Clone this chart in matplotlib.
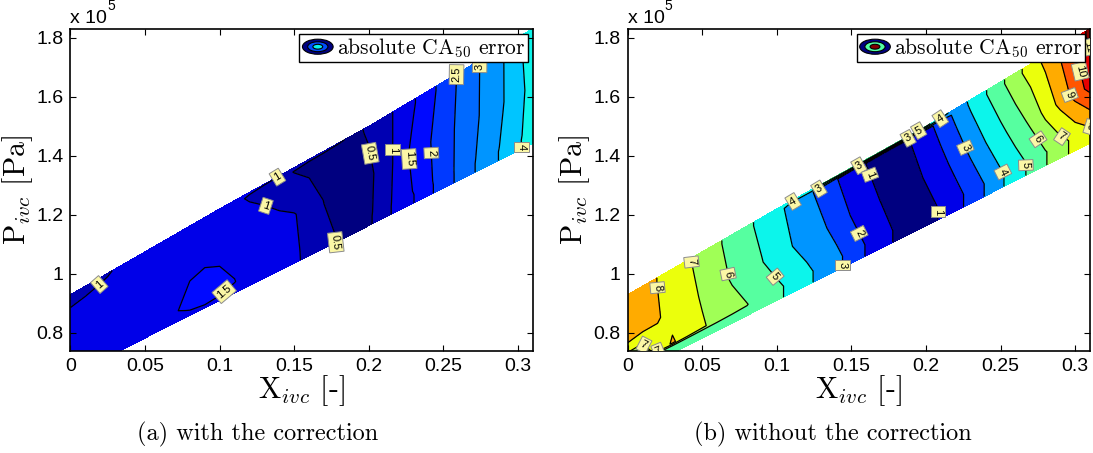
import numpy as np
import matplotlib
matplotlib.use('Agg')
import matplotlib.pyplot as plt
from matplotlib.patches import Ellipse, Patch
from matplotlib.legend_handler import HandlerBase
from matplotlib.ticker import FormatStrFormatter

plt.rcParams['font.family'] = 'Liberation Sans'
plt.rcParams['mathtext.fontset'] = 'cm'
plt.rcParams['axes.unicode_minus'] = False
SERIF = 'cmr10'

# grid: X_ivc nodes along the band, and relative position across the band
x_nodes = [0.00, 0.01, 0.02, 0.03, 0.04, 0.05, 0.06, 0.07, 0.08, 0.09, 0.10,
           0.11, 0.12, 0.13, 0.14, 0.15, 0.16, 0.17, 0.18, 0.19, 0.20, 0.21,
           0.22, 0.23, 0.24, 0.25, 0.26, 0.27, 0.28, 0.29, 0.30, 0.31]
t_rows = [0.0, 0.08, 0.12, 0.5, 0.96, 1.0]

# limits of the operating range (P_ivc in 1e5 Pa)
edge_x = [0.0, 0.1, 0.2, 0.31]
edge_low = [0.655, 0.909, 1.163, 1.442]
edge_up = [0.929, 1.220, 1.500, 1.831]

# absolute CA50 error, with the correction
err_a_t000 = [1.20, 1.22, 1.25, 1.28, 1.32, 1.35, 1.38, 1.41, 1.44, 1.45, 1.44, 1.40, 1.33, 1.25, 1.16, 1.07,
              0.90, 0.68, 0.45, 0.35, 0.43, 0.75, 1.25, 1.49, 1.88, 2.25, 2.60, 2.96, 3.28, 3.60, 3.93, 4.25]
err_a_t008 = [1.20, 1.22, 1.25, 1.28, 1.32, 1.35, 1.39, 1.45, 1.52, 1.56, 1.53, 1.46, 1.34, 1.25, 1.16, 1.07,
              0.89, 0.66, 0.44, 0.35, 0.43, 0.75, 1.25, 1.49, 1.88, 2.25, 2.60, 2.96, 3.28, 3.60, 3.93, 4.25]
err_a_t012 = [1.20, 1.22, 1.25, 1.28, 1.32, 1.35, 1.40, 1.48, 1.57, 1.62, 1.58, 1.51, 1.37, 1.26, 1.16, 1.07,
              0.88, 0.64, 0.43, 0.34, 0.42, 0.74, 1.24, 1.52, 1.90, 2.26, 2.60, 2.95, 3.26, 3.58, 3.91, 4.24]
err_a_t050 = [1.20, 1.22, 1.25, 1.28, 1.32, 1.36, 1.40, 1.44, 1.47, 1.48, 1.46, 1.40, 1.32, 1.22, 1.12, 1.03,
              0.80, 0.48, 0.35, 0.30, 0.40, 0.70, 1.20, 1.65, 1.95, 2.28, 2.58, 2.88, 3.18, 3.48, 3.83, 4.20]
err_a_t096 = [0.93, 0.95, 0.98, 1.02, 1.08, 1.14, 1.20, 1.25, 1.30, 1.32, 1.25, 1.10, 0.95, 0.85, 0.70, 0.48,
              0.35, 0.32, 0.33, 0.40, 0.55, 0.85, 1.10, 1.45, 1.85, 2.15, 2.55, 2.85, 3.20, 3.48, 3.90, 4.30]
err_a_t100 = [0.88, 0.92, 0.96, 1.01, 1.06, 1.12, 1.18, 1.22, 1.26, 1.27, 1.20, 1.10, 1.08, 1.05, 1.02, 0.85,
              0.70, 0.65, 0.55, 0.42, 0.55, 0.85, 1.10, 1.45, 1.85, 2.15, 2.55, 2.85, 3.20, 3.48, 3.90, 4.30]

# absolute CA50 error, without the correction
err_b_t000 = [5.50, 5.50, 5.50, 5.50, 5.50, 5.50, 5.52, 5.55, 5.80, 5.60, 5.21, 4.74, 4.21, 3.72, 3.24, 2.64,
              1.93, 1.40, 0.88, 0.45, 0.60, 1.11, 1.67, 2.31, 3.08, 3.85, 4.53, 5.21, 5.93, 6.64, 7.29, 7.85]
err_b_t008 = [5.50, 5.50, 5.52, 5.55, 5.55, 5.55, 5.58, 5.60, 5.90, 5.62, 5.21, 4.74, 4.21, 3.72, 3.24, 2.64,
              1.93, 1.40, 0.88, 0.45, 0.60, 1.11, 1.67, 2.31, 3.08, 3.85, 4.53, 5.21, 5.93, 6.64, 7.29, 7.85]
err_b_t012 = [5.60, 5.80, 7.50, 8.10, 7.60, 7.10, 6.72, 6.38, 6.03, 5.62, 5.21, 4.74, 4.21, 3.72, 3.24, 2.64,
              1.93, 1.40, 0.88, 0.45, 0.60, 1.11, 1.67, 2.31, 3.08, 3.85, 4.53, 5.21, 5.93, 6.64, 7.29, 7.85]
err_b_t050 = [8.80, 8.40, 8.08, 7.69, 7.31, 6.90, 6.40, 5.91, 5.48, 5.04, 4.53, 4.02, 3.60, 3.20, 2.64, 1.95,
              1.45, 0.95, 0.48, 0.60, 1.11, 1.67, 2.33, 3.17, 3.98, 4.71, 5.46, 6.23, 7.30, 8.30, 9.35, 10.40]
err_b_t096 = [8.80, 8.43, 7.98, 7.57, 7.13, 6.65, 6.15, 5.67, 5.21, 4.73, 4.24, 3.75, 3.25, 2.68, 2.04, 1.52,
              0.98, 0.60, 0.45, 1.06, 1.66, 2.38, 3.27, 4.16, 4.95, 5.77, 6.64, 7.45, 8.23, 9.13, 10.12, 11.35]
err_b_t100 = [8.80, 8.43, 7.98, 7.57, 7.13, 6.65, 6.15, 5.67, 5.21, 4.73, 4.30, 4.20, 4.80, 5.30, 5.60, 5.70,
              5.80, 5.80, 5.70, 5.50, 5.20, 4.50, 3.50, 4.16, 4.95, 5.77, 6.64, 7.45, 8.23, 9.13, 10.12, 11.35]

levels_a = [0, 0.5, 1, 1.5, 2, 2.5, 3, 3.5, 4, 4.5]
levels_b = [0, 1, 2, 3, 4, 5, 6, 7, 8, 9, 10, 11, 12]
CMAX = 11.0  # shared colour axis

# where the inline contour labels sit
labels_a = [(0.019, 0.965), (0.102, 0.945), (0.131, 1.23), (0.139, 1.325), (0.176, 1.105),
            (0.192, 1.40), (0.210, 1.42), (0.229, 1.39), (0.245, 1.41), (0.258, 1.675),
            (0.272, 1.70), (0.300, 1.43)]
labels_b = [(0.0207, 0.953), (0.043, 1.04), (0.0665, 0.998), (0.0948, 0.973), (0.1115, 1.239),
            (0.128, 1.289), (0.155, 1.366), (0.158, 1.327), (0.1518, 1.128), (0.146, 1.03),
            (0.188, 1.459), (0.1945, 1.49), (0.208, 1.538), (0.2203, 1.414), (0.208, 1.21),
            (0.2483, 1.335), (0.264, 1.368), (0.271, 1.442), (0.2877, 1.436), (0.2965, 1.606),
            (0.302, 1.685), (0.3066, 1.765), (0.308, 1.46), (0.0118, 0.764), (0.0184, 0.762)]

jet = plt.get_cmap('jet')

xx = np.array(x_nodes)
low = np.interp(xx, edge_x, edge_low)
up = np.interp(xx, edge_x, edge_up)
X = np.tile(xx, (len(t_rows), 1))
P = low[None, :] + np.array(t_rows)[:, None] * (up - low)[None, :]


class RingHandler(HandlerBase):
    # small nested-ellipse icon, like a filled contour
    def __init__(self, colors):
        super().__init__()
        self.colors = colors

    def create_artists(self, legend, orig_handle, xdescent, ydescent,
                       width, height, fontsize, trans):
        cx, cy = 0.5 * width - xdescent, 0.5 * height - ydescent
        arts = []
        for k, c in enumerate(self.colors):
            s = 1.0 - 0.34 * k
            arts.append(Ellipse((cx, cy), width * 0.95 * s, height * 1.0 * s,
                                facecolor=c, edgecolor='k', lw=0.8, transform=trans))
        return arts


def draw_panel(ax, Z, levels, label_pos, ring_colors):
    colors = [jet(lv / CMAX) for lv in levels[:-1]]
    ax.contourf(X, P, Z, levels=levels, colors=colors)
    cs = ax.contour(X, P, Z, levels=levels, colors='k', linewidths=0.9)
    ax.set_xlim(0, 0.31)
    ax.set_ylim(0.739, 1.8305)
    txts = ax.clabel(cs, manual=label_pos, fmt='%g', fontsize=8, inline=False)
    for t in txts:
        t.set_bbox(dict(boxstyle='square,pad=0.2', fc='#fbf7a6', ec='0.55', lw=0.7))
        t.set_clip_on(True)

    ax.set_xticks([0, 0.05, 0.1, 0.15, 0.2, 0.25, 0.3])
    ax.set_yticks([0.8, 1.0, 1.2, 1.4, 1.6, 1.8])
    ax.xaxis.set_major_formatter(FormatStrFormatter('%g'))
    ax.yaxis.set_major_formatter(FormatStrFormatter('%g'))
    ax.tick_params(direction='in', length=4, width=0.8, top=True, right=True,
                   labelsize=14, pad=5)
    for sp in ax.spines.values():
        sp.set_linewidth(1.2)

    ax.set_xlabel(r'X$_{ivc}$ [-]', fontfamily=SERIF, fontsize=21.5, labelpad=-1)
    ax.set_ylabel(r'P$_{ivc}$ [Pa]', fontfamily=SERIF, fontsize=21.5, labelpad=1)
    ax.text(0.0, 1.006, 'x 10', transform=ax.transAxes, fontsize=14, ha='left', va='bottom')
    ax.text(0.079, 1.048, '5', transform=ax.transAxes, fontsize=10, ha='left', va='bottom')

    proxy = Patch()
    leg = ax.legend([proxy], ['absolute CA$_{50}$ error'], loc='upper right',
                    handler_map={proxy: RingHandler(ring_colors)},
                    prop={'family': SERIF, 'size': 15.5}, fancybox=False,
                    borderpad=0.1, handlelength=1.5, handleheight=0.7,
                    handletextpad=0.15, borderaxespad=0.25, framealpha=1)
    leg.get_frame().set_edgecolor('k')
    leg.get_frame().set_linewidth(1.0)
    leg.set_zorder(10)


fig = plt.figure(figsize=(10.93, 4.53), dpi=100)
ax_a = fig.add_axes([0.0645, 0.2258, 0.4231, 0.7108])
ax_b = fig.add_axes([0.5743, 0.2258, 0.4231, 0.7108])

Z_a = np.array([err_a_t000, err_a_t008, err_a_t012, err_a_t050, err_a_t096, err_a_t100])
Z_b = np.array([err_b_t000, err_b_t008, err_b_t012, err_b_t050, err_b_t096, err_b_t100])

draw_panel(ax_a, Z_a, levels_a, labels_a, [jet(0.0), jet(0.2), jet(0.36)])
draw_panel(ax_b, Z_b, levels_b, labels_b, [jet(0.0), jet(0.45), jet(1.0)])

fig.text(137 / 1093, 1 - 440 / 453, '(a) with the correction', ha='left', va='baseline',
         family=SERIF, size=17.5)
fig.text(694 / 1093, 1 - 440 / 453, '(b) without the correction', ha='left', va='baseline',
         family=SERIF, size=17.5)

fig.savefig('out.png', dpi=100)
